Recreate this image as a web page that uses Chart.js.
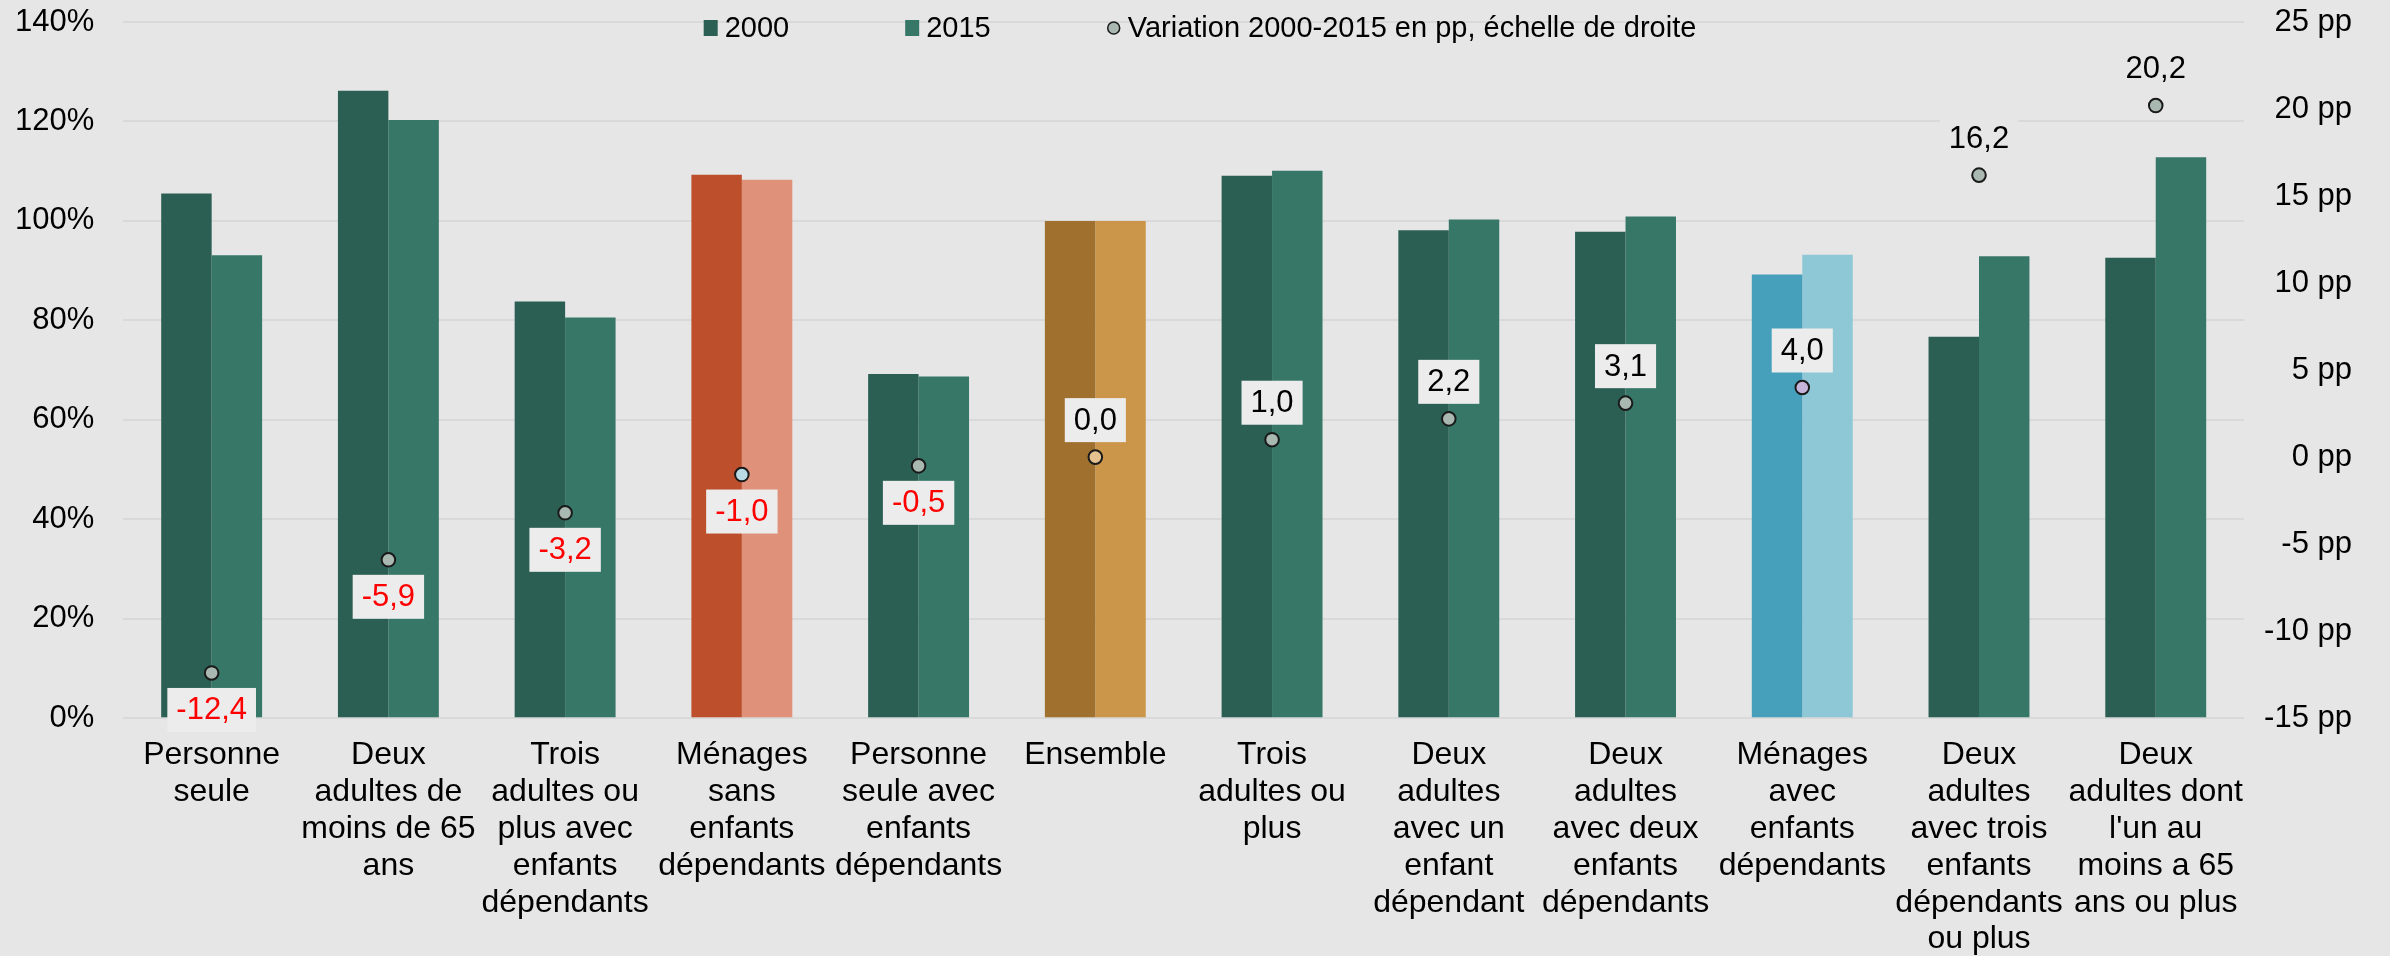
<!DOCTYPE html>
<html lang="fr">
<head>
<meta charset="utf-8">
<title>Niveau relatif par type de ménage, 2000 et 2015</title>
<script src="https://cdn.jsdelivr.net/npm/chart.js@4.4.0/dist/chart.umd.min.js"></script>
<style>
  html, body { margin: 0; padding: 0; background: #e6e6e6; }
  #chart { display: block; }
</style>
</head>
<body>
<canvas id="chart" width="2390" height="956"></canvas>
<script>
// ===== Données =====
const categories = [
  ['Personne', 'seule'],
  ['Deux', 'adultes de', 'moins de 65', 'ans'],
  ['Trois', 'adultes ou', 'plus avec', 'enfants', 'dépendants'],
  ['Ménages', 'sans', 'enfants', 'dépendants'],
  ['Personne', 'seule avec', 'enfants', 'dépendants'],
  ['Ensemble'],
  ['Trois', 'adultes ou', 'plus'],
  ['Deux', 'adultes', 'avec un', 'enfant', 'dépendant'],
  ['Deux', 'adultes', 'avec deux', 'enfants', 'dépendants'],
  ['Ménages', 'avec', 'enfants', 'dépendants'],
  ['Deux', 'adultes', 'avec trois', 'enfants', 'dépendants', 'ou plus'],
  ['Deux', 'adultes dont', "l'un au", 'moins a 65', 'ans ou plus']
];
const values2000 = [105.5, 126.2, 83.8, 109.3, 69.2, 100.0, 109.1, 98.1, 97.8, 89.2, 76.7, 92.6];
const values2015 = [93.1, 120.3, 80.6, 108.3, 68.7, 100.0, 110.1, 100.3, 100.9, 93.2, 92.9, 112.8];
const variation  = [-12.4, -5.9, -3.2, -1.0, -0.5, 0.0, 1.0, 2.2, 3.1, 4.0, 16.2, 20.2];

const leftTicks = [0, 20, 40, 60, 80, 100, 120, 140];
const rightTicks = [-15, -10, -5, 0, 5, 10, 15, 20, 25];
const seriesLabels = ['2000', '2015', 'Variation 2000-2015 en pp, échelle de droite'];

// ===== Couleurs =====
const BG = '#e6e6e6';
const G1 = '#2b5f53', G2 = '#377768', DOT = '#a9b9b1';
const colors2000 = [G1, G1, G1, '#bd4f2d', G1, '#a0712e', G1, G1, G1, '#46a0bb', G1, G1];
const colors2015 = [G2, G2, G2, '#e0917a', G2, '#cc964a', G2, G2, G2, '#8ec7d6', G2, G2];
const dotColors  = [DOT, DOT, DOT, '#b9d9e4', DOT, '#e6c18f', DOT, DOT, DOT, '#c7b5d9', DOT, DOT];
const NONE = 'rgba(0,0,0,0)';

const FONT = "'Liberation Sans', Arial, sans-serif";
const fmt = v => v.toFixed(1).replace('.', ',');

// fond gris de toute la figure
const bgPlugin = {
  id: 'bg',
  beforeDraw(chart) {
    const c = chart.ctx;
    c.save();
    c.fillStyle = BG;
    c.fillRect(0, 0, chart.width, chart.height);
    c.restore();
  }
};

// étiquettes des variations (boîte + texte), au-dessus ou en dessous du point
const varLabels = {
  id: 'varLabels',
  afterDatasetsDraw(chart) {
    const c = chart.ctx;
    const meta = chart.getDatasetMeta(2);
    c.save();
    c.font = '31px ' + FONT;
    c.textAlign = 'center';
    c.textBaseline = 'middle';
    meta.data.forEach((pt, i) => {
      const v = variation[i];
      const txt = fmt(v);
      const w = c.measureText(txt).width + 18;
      const h = 44;
      const cy = v < 0 ? pt.y + 37 : pt.y - 37;
      c.fillStyle = i >= 10 ? BG : '#ececec';
      c.fillRect(pt.x - w / 2, cy - h / 2, w, h);
      c.fillStyle = v < 0 ? '#ff0000' : '#000000';
      c.fillText(txt, pt.x, cy + 1);
    });
    c.restore();
  }
};

// légende en haut, posée sur la zone de tracé
const topLegend = {
  id: 'topLegend',
  afterDraw(chart) {
    const c = chart.ctx;
    c.save();
    c.font = '29px ' + FONT;
    c.textBaseline = 'middle';
    const box = 14, gap = 7, spacing = 116, y = 28;
    const widths = seriesLabels.map(t => c.measureText(t).width);
    const total = widths.reduce((a, b) => a + b, 0) + 3 * (box + gap) + 2 * spacing;
    let x = 1200 - total / 2;
    seriesLabels.forEach((t, i) => {
      if (i < 2) {
        c.fillStyle = i === 0 ? G1 : G2;
        c.fillRect(x, y - 8, box, 16);
      } else {
        c.beginPath();
        c.arc(x + box / 2, y, 6, 0, Math.PI * 2);
        c.fillStyle = DOT;
        c.fill();
        c.lineWidth = 1.5;
        c.strokeStyle = '#1a1a1a';
        c.stroke();
      }
      c.fillStyle = '#000';
      c.fillText(t, x + box + gap, y + 1);
      x += box + gap + widths[i] + spacing;
    });
    c.restore();
  }
};

const ctx = document.getElementById('chart');
new Chart(ctx, {
  type: 'bar',
  data: {
    labels: categories,
    datasets: [
      { label: seriesLabels[0], data: values2000, backgroundColor: colors2000, yAxisID: 'y', order: 1 },
      { label: seriesLabels[1], data: values2015, backgroundColor: colors2015, yAxisID: 'y', order: 1 },
      {
        type: 'line', label: seriesLabels[2], data: variation, yAxisID: 'y2', order: 0,
        showLine: false, pointRadius: 6.8, pointBorderWidth: 2,
        pointBackgroundColor: dotColors, pointBorderColor: '#1a1a1a'
      }
    ]
  },
  options: {
    responsive: false,
    animation: false,
    devicePixelRatio: 1,
    layout: { padding: { left: 15, right: 38, top: 22, bottom: -21 } },
    datasets: { bar: { barPercentage: 1.0, categoryPercentage: 0.571 } },
    plugins: { legend: { display: false }, tooltip: { enabled: false } },
    scales: {
      x: {
        grid: { display: false, drawTicks: false },
        border: { display: false },
        ticks: {
          color: '#000', padding: 19, maxRotation: 0, autoSkip: false,
          font: { family: FONT, size: 32, lineHeight: 1.15 }
        }
      },
      y: {
        position: 'left', min: 0, max: 140,
        afterBuildTicks: s => { s.ticks = leftTicks.map(v => ({ value: v })); },
        // espace labels/zone via une graduation invisible (ticks.padding décale aussi le haut)
        grid: { color: '#d9d9d9', lineWidth: 2, drawTicks: true, tickLength: 29, tickColor: NONE },
        border: { display: false },
        ticks: { color: '#000', padding: 0, font: { family: FONT, size: 31 }, callback: v => v + '%' }
      },
      y2: {
        position: 'right', min: -15, max: 25,
        afterBuildTicks: s => { s.ticks = rightTicks.map(v => ({ value: v })); },
        grid: { color: NONE, drawOnChartArea: false, drawTicks: true, tickLength: 20, tickColor: NONE },
        border: { display: false },
        ticks: { color: '#000', padding: 0, crossAlign: 'far', font: { family: FONT, size: 31 }, callback: v => v + ' pp' }
      }
    }
  },
  plugins: [bgPlugin, varLabels, topLegend]
});
</script>
</body>
</html>
